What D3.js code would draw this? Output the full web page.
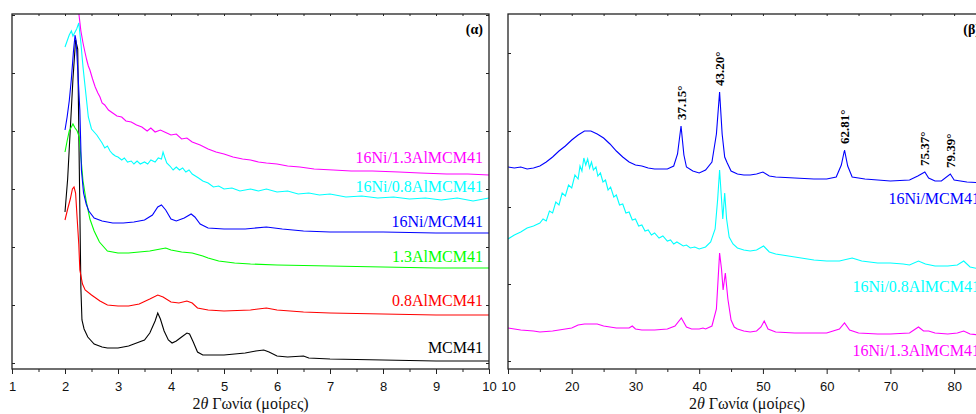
<!DOCTYPE html>
<html>
<head>
<meta charset="utf-8">
<script src="https://cdn.jsdelivr.net/npm/d3@7/dist/d3.min.js"></script>
<style>
  body { margin: 0; background: #fff; }
  svg { display: block; }
</style>
</head>
<body>
<svg id="chart"></svg>
<script>
// ---- panel (α): low angle, intensity in a.u. ----
var mcm41 = [[2.00,157],[2.05,190],[2.10,240],[2.15,290],[2.20,329],[2.24,320],[2.27,200],[2.30,80],[2.32,49],[2.36,40],[2.43,32],[2.55,25],[2.7,22],[2.8,21],[3.0,21],[3.2,23],[3.4,27],[3.5,29],[3.6,36],[3.7,48],[3.75,56],[3.8,50],[3.87,38],[3.95,29],[4.02,26],[4.1,28],[4.2,32],[4.3,36],[4.35,35],[4.42,27],[4.5,17],[4.6,14],[4.8,14],[5.0,14],[5.2,15],[5.4,16],[5.6,18],[5.75,19],[5.85,17],[6.0,13],[6.2,12],[6.5,13],[6.6,11],[7.0,10],[8.0,9],[9.0,8],[10.0,8]];
var al08 = [[2.00,149],[2.05,160],[2.10,170],[2.14,180],[2.17,182],[2.20,176],[2.23,150],[2.26,125],[2.28,99],[2.33,85],[2.38,79],[2.5,74],[2.66,68],[2.8,64],[3.0,63],[3.2,63],[3.4,65],[3.6,70],[3.75,74],[3.85,72],[4.0,67],[4.15,66],[4.3,68],[4.4,66],[4.5,61],[4.7,59],[5.0,58],[5.5,59],[5.8,61],[6.0,59],[6.5,57],[7,56],[8,55],[9,54],[10,54]];
var al13 = [[2.00,217],[2.04,228],[2.08,238],[2.12,242],[2.15,245],[2.19,241],[2.23,238],[2.27,232],[2.30,212],[2.34,188],[2.40,168],[2.47,150],[2.55,138],[2.65,127],[2.8,118],[3.0,116],[3.2,116],[3.4,117],[3.6,118],[3.8,120],[3.9,121],[4.0,119],[4.2,117],[4.4,116],[4.6,113],[4.7,111],[4.9,108],[5.2,106],[5.5,105],[6,104],[7,103],[8,102],[9,101],[10,101]];
var ni = [[2.00,239],[2.04,252],[2.08,268],[2.12,290],[2.16,318],[2.19,334],[2.21,328],[2.24,300],[2.28,259],[2.31,199],[2.35,176],[2.40,165],[2.45,158],[2.55,151],[2.7,148],[2.9,146],[3.1,146],[3.3,147],[3.5,149],[3.65,154],[3.75,162],[3.82,164],[3.9,159],[4.0,150],[4.1,148],[4.25,151],[4.38,155],[4.45,152],[4.55,145],[4.7,141],[5.0,140],[5.4,140],[5.8,142],[6.1,140],[6.5,138],[7,137],[8,137],[9,136],[10,136]];
var niAl08 = [[2.00,322],[2.04,328],[2.08,334],[2.12,338],[2.15,333],[2.18,336],[2.22,340],[2.26,346],[2.30,326],[2.34,302],[2.38,282],[2.44,252],[2.50,240],[2.6,234],[2.7,226],[2.75,221],[2.8,223],[2.85,218],[2.9,215],[2.95,213],[3.0,212],[3.07,209],[3.12,211],[3.18,207],[3.25,208],[3.3,205],[3.36,208],[3.42,205],[3.5,207],[3.56,205],[3.62,209],[3.7,207],[3.76,211],[3.82,210],[3.85,217],[3.88,212],[3.92,206],[3.98,203],[4.04,199],[4.1,202],[4.16,199],[4.22,201],[4.28,197],[4.34,199],[4.4,195],[4.46,193],[4.52,191],[4.6,188],[4.7,186],[4.8,182],[4.9,183],[5.0,180],[5.15,181],[5.3,178],[5.5,180],[5.65,178],[5.8,180],[6.0,177],[6.2,178],[6.4,175],[6.6,176],[6.8,174],[7.0,175],[7.3,172],[7.6,173],[7.9,171],[8.2,172],[8.5,170],[8.8,171],[9.1,169],[9.4,171],[9.7,168],[10,171]];
var niAl13 = [[2.26,356],[2.3,338],[2.34,326],[2.38,316],[2.41,309],[2.44,303],[2.47,299],[2.52,290],[2.57,282],[2.62,276],[2.66,272],[2.7,266],[2.75,264],[2.82,259],[2.9,256],[2.98,253],[3.07,252],[3.15,248],[3.25,247],[3.35,244],[3.45,242],[3.55,238],[3.62,241],[3.7,237],[3.8,239],[3.92,236],[4.0,234],[4.1,235],[4.2,230],[4.3,231],[4.4,227],[4.55,224],[4.7,220],[4.85,217],[5.0,215],[5.17,212],[5.35,210],[5.5,209],[5.65,207],[5.8,206],[6.0,205],[6.2,203],[6.43,202],[6.7,200],[7.06,199],[7.4,198],[7.8,198],[8.3,197],[8.7,196],[9.2,195],[9.6,195],[10,194]];

// ---- panel (β): wide angle ----
var wNi = [[10,202],[11,201],[12,202],[13,200],[14,201],[15,203],[16,207],[17,212],[18,218],[19,223],[20,229],[21,234],[22,238],[23,238],[24,235],[25,231],[26,225],[27,218],[28,212],[29,207],[30,204],[31,203],[32,201],[33,200],[34,200],[35,200],[36,203],[36.6,215],[37.15,243],[37.6,214],[38,202],[39,198],[40,196],[41,199],[42,207],[42.7,235],[43.2,277],[43.6,235],[44.0,212],[44.4,206],[45,198],[46,195],[47,194],[48,194],[49,195],[50,197],[51,193],[52,192],[55,191],[58,190],[60,190],[61.5,192],[62.3,204],[62.8,219],[63.3,203],[64,192],[66,190],[70,188],[73,189],[74.3,193],[75.4,197],[76,191],[77,188],[78,188],[79.4,195],[80,189],[82,187],[85,186]];
var wNiAl08 = [[10,130],[11,134],[12,137],[13,141],[14,143],[15,146],[15.5,150],[16,148],[16.5,158],[17,156],[17.5,167],[18,164],[18.5,176],[19,173],[19.5,184],[20,181],[20.5,194],[21,190],[21.3,203],[21.6,198],[21.9,211],[22.2,204],[22.5,210],[22.8,201],[23.1,207],[23.4,199],[23.8,202],[24.1,193],[24.5,196],[24.9,187],[25.3,189],[25.7,179],[26.1,182],[26.6,172],[27,174],[27.5,164],[28,165],[28.5,156],[29,157],[29.5,149],[30,150],[30.5,143],[31,144],[31.5,138],[32,139],[32.5,134],[33,136],[33.7,131],[34.3,133],[35,128],[35.5,129],[36,125],[36.5,127],[37.5,123],[38,124],[38.6,121],[39.3,122],[40,120],[41,122],[41.8,127],[42.5,140],[42.9,170],[43.2,199],[43.5,170],[43.7,150],[44.0,176],[44.3,150],[44.7,132],[45.3,125],[46,121],[47,119],[48,118],[49,119],[50.1,123],[51,117],[52,115],[54,113],[56,111],[58,109],[60,108],[62,108],[64,111],[65.5,108],[68,106],[70,106],[72,105],[73,104],[74.4,108],[75.5,105],[77,103],[79,103],[80.5,104],[81.5,108],[82.5,102],[84,100],[85,99]];
var wNiAl13 = [[10,41],[12,39],[14,38],[15,37],[17,38],[19,40],[20,41],[21,44],[22,45],[23,45],[24,45],[25,43],[26,42],[27,41],[28,41],[29,41],[29.5,43],[30,40],[31,39],[33,39],[35,40],[36.2,43],[37.2,51],[38,42],[38.8,40],[40,40],[40.6,41],[41,40],[42,43],[42.7,60],[43.2,116],[43.5,100],[43.75,79],[44.1,96],[44.5,70],[45,49],[45.5,42],[46,40],[47,38],[48,37],[49,38],[49.7,42],[50.2,48],[50.8,40],[52,37],[55,36],[58,36],[60,36],[62,40],[62.8,46],[63.6,39],[65,36],[68,35],[70,35],[73,36],[74.4,42],[75.2,38],[76,38],[77,36],[79,35],[80.5,36],[81.5,38],[82.5,35],[84,34],[85,34]];

var peakAngles = [37.15, 43.20, 62.81, 75.37, 79.39];
var peakLabels = ["37.15°", "43.20°", "62.81°", "75.37°", "79.39°"];

var leftNames = ["MCM41", "0.8AlMCM41", "1.3AlMCM41", "16Ni/MCM41", "16Ni/0.8AlMCM41", "16Ni/1.3AlMCM41"];
var leftSeries = [mcm41, al08, al13, ni, niAl08, niAl13];
var leftColors = ["#000000", "#ff0000", "#00ff00", "#0000ff", "#00ffff", "#ff00ff"];
var leftLabelLevel = [16, 63, 107, 142, 177, 206];

var rightNames = ["16Ni/MCM41", "16Ni/0.8AlMCM41", "16Ni/1.3AlMCM41"];
var rightSeries = [wNi, wNiAl08, wNiAl13];
var rightColors = ["#0000ff", "#00ffff", "#ff00ff"];
var rightLabelLevel = [165, 77, 13];

var width = 976, height = 414;
var svg = d3.select("#chart").attr("width", width).attr("height", height);

var serif = "'Liberation Serif', 'Times New Roman', serif";
var sans = "'Liberation Sans', Arial, sans-serif";

function drawPanel(p) {
  var x = d3.scaleLinear().domain(p.xDomain).range([p.left, p.right]);
  var y = d3.scaleLinear().domain([0, 355]).range([369, 14]);
  var g = svg.append("g");

  g.append("clipPath").attr("id", p.id)
    .append("rect")
    .attr("x", p.left).attr("y", 14)
    .attr("width", p.right - p.left).attr("height", 355);

  var line = d3.line().x(function(d) { return x(d[0]); }).y(function(d) { return y(d[1]); });

  g.append("g").attr("clip-path", "url(#" + p.id + ")")
    .selectAll("path").data(p.series).join("path")
    .attr("d", line)
    .attr("fill", "none")
    .attr("stroke", function(d, i) { return p.colors[i]; })
    .attr("stroke-width", 1.1);

  // bottom axis: labelled majors + minor ticks
  var bottom = g.append("g").attr("transform", "translate(0,369)")
    .call(d3.axisBottom(x).tickValues(p.major).tickSize(5).tickPadding(8).tickFormat(d3.format("d")));
  bottom.selectAll("text").attr("font-family", sans).attr("font-size", 13).attr("fill", "#111");
  g.append("g").attr("transform", "translate(0,369)")
    .call(d3.axisBottom(x).tickValues(p.minor).tickSize(3).tickFormat(""));

  g.append("g").attr("transform", "translate(0,14)")
    .call(d3.axisBottom(x).tickValues(p.top).tickSize(2).tickFormat(""));
  g.append("g").attr("transform", "translate(" + p.left + ",0)")
    .call(d3.axisRight(y).tickValues(p.yTicks).tickSize(3).tickFormat(""));
  g.append("g").attr("transform", "translate(" + p.right + ",0)")
    .call(d3.axisLeft(y).tickValues(p.yTicks).tickSize(3).tickFormat(""));
  g.selectAll(".domain").remove();
  g.selectAll(".tick line").attr("stroke", "#222");

  g.append("rect")
    .attr("x", p.left).attr("y", 14)
    .attr("width", p.right - p.left).attr("height", 355)
    .attr("fill", "none").attr("stroke", "#222").attr("stroke-width", 1.3);

  // series names
  g.selectAll("text.name").data(p.names).join("text")
    .attr("class", "name")
    .attr("x", p.right - 6)
    .attr("y", function(d, i) { return y(p.levels[i]); })
    .attr("text-anchor", "end")
    .attr("font-family", serif)
    .attr("font-size", 16)
    .attr("fill", function(d, i) { return p.colors[i]; })
    .text(function(d) { return d; });

  // panel tag
  g.append("text")
    .attr("x", p.right - 6).attr("y", 34)
    .attr("text-anchor", "end")
    .attr("font-family", serif).attr("font-weight", "bold").attr("font-size", 14)
    .text(p.tag);

  // axis title
  var t = g.append("text")
    .attr("x", (p.left + p.right) / 2).attr("y", 409)
    .attr("text-anchor", "middle")
    .attr("font-family", serif).attr("font-size", 16).attr("fill", "#111");
  t.append("tspan").text("2");
  t.append("tspan").attr("font-style", "italic").text("θ");
  t.append("tspan").text(" Γωνία (μοίρες)");

  return { x: x, y: y, g: g };
}

drawPanel({
  id: "clipA", left: 12, right: 489, xDomain: [1, 10],
  major: d3.range(1, 11), minor: d3.range(1.5, 10, 1), top: d3.range(1.5, 10, 0.5),
  yTicks: [6, 64, 122, 180, 238, 296, 354],
  series: leftSeries, colors: leftColors, names: leftNames, levels: leftLabelLevel, tag: "(α)"
});

var b = drawPanel({
  id: "clipB", left: 508, right: 986, xDomain: [10, 85],
  major: d3.range(10, 85, 10), minor: d3.range(15, 86, 10), top: d3.range(15, 85, 5),
  yTicks: [8, 85, 162, 238, 316],
  series: rightSeries, colors: rightColors, names: rightNames, levels: rightLabelLevel, tag: "(β)"
});

// peak annotations above the 16Ni/MCM41 pattern
b.g.selectAll("text.peak").data(peakAngles).join("text")
  .attr("class", "peak")
  .attr("transform", function(d) {
    var near = wNi.filter(function(p) { return Math.abs(p[0] - d) < 0.8; });
    var top = d3.max(near, function(p) { return p[1]; });
    return "translate(" + b.x(d) + "," + (b.y(top) - 6) + ") rotate(-90)";
  })
  .attr("dy", "0.35em")
  .attr("font-family", serif).attr("font-weight", "bold").attr("font-size", 13)
  .text(function(d, i) { return peakLabels[i]; });
</script>
</body>
</html>
